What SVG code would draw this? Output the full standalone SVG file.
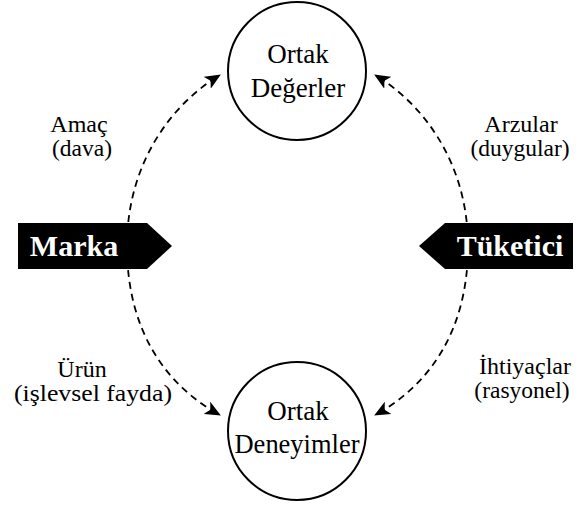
<svg xmlns="http://www.w3.org/2000/svg" width="581" height="507" viewBox="0 0 581 507">
<defs>
<marker id="ah" markerUnits="userSpaceOnUse" markerWidth="16" markerHeight="14" viewBox="0 0 16 14" refX="15" refY="7" orient="auto">
<path d="M0,0 L16,7 L0,14 L4,7 Z" fill="#000"/>
</marker>
</defs>
<style>
.node{fill:#fff;stroke:#000;stroke-width:2}
.nt{font-family:"Liberation Serif","Times New Roman",serif;font-size:27px;fill:#000;text-anchor:middle}
.lb{font-family:"Liberation Serif","Times New Roman",serif;font-size:24px;fill:#000;text-anchor:middle}
.sl{font-family:"Liberation Serif","Times New Roman",serif;font-size:23.5px;fill:#000;text-anchor:middle}
.conn{fill:none;stroke:#000;stroke-width:1.8;stroke-dasharray:7,5;marker-end:url(#ah)}
.ban{fill:#000}
.bt{font-family:"Liberation Serif","Times New Roman",serif;font-size:30px;font-weight:bold;fill:#fff;text-anchor:middle}
</style>
<rect width="581" height="507" fill="#fff"/>
<g id="connectors">
<path class="conn" d="M127,246 C127,165 170,105 220,75"/>
<path class="conn" d="M127,246 C127,330 165,385 220,415"/>
<path class="conn" d="M468,246 C468,165 425,105 375,75"/>
<path class="conn" d="M468,246 C468,330 430,385 375,415"/>
</g>
<g id="ortak-degerler">
<circle class="node" cx="297" cy="71" r="69"/>
<text class="nt" x="298" y="63">Ortak</text>
<text class="nt" x="298" y="97">Değerler</text>
</g>
<g id="ortak-deneyimler">
<circle class="node" cx="297" cy="431" r="69"/>
<text class="nt" x="298" y="420">Ortak</text>
<text class="nt" x="297" y="453" textLength="125" lengthAdjust="spacingAndGlyphs">Deneyimler</text>
</g>
<g id="marka">
<path class="ban" d="M18,223 L147,223 L172,246 L147,269 L18,269 Z"/>
<text class="bt" x="74" y="256">Marka</text>
</g>
<g id="tuketici">
<path class="ban" d="M419,246 L445,223 L573,223 L573,269 L445,269 Z"/>
<text class="bt" x="510" y="256">Tüketici</text>
</g>
<g id="label-amac">
<text class="lb" x="79" y="132">Amaç</text>
<text class="sl" x="82" y="156">(dava)</text>
</g>
<g id="label-arzular">
<text class="lb" x="521" y="132">Arzular</text>
<text class="sl" x="520" y="156">(duygular)</text>
</g>
<g id="label-urun">
<text class="lb" x="82" y="377">Ürün</text>
<text class="sl" x="93" y="401" textLength="158" lengthAdjust="spacingAndGlyphs">(işlevsel fayda)</text>
</g>
<g id="label-ihtiyaclar">
<text class="lb" x="525" y="374">İhtiyaçlar</text>
<text class="sl" x="522" y="398">(rasyonel)</text>
</g>
</svg>
